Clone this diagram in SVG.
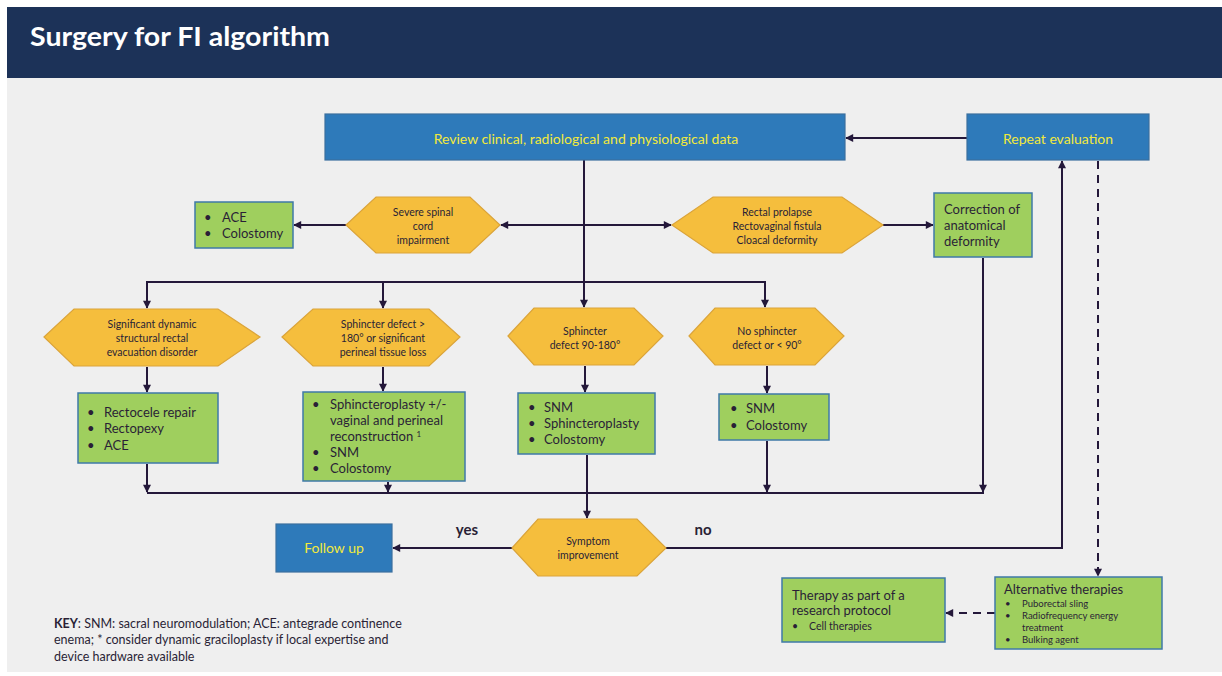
<svg xmlns="http://www.w3.org/2000/svg" width="1222" height="676" viewBox="0 0 1222 676">
<defs>
<marker id="ah" viewBox="0 0 10 10" refX="9" refY="5" markerWidth="9" markerHeight="8" markerUnits="userSpaceOnUse" orient="auto-start-reverse">
<path d="M0,0 L10,5 L0,10 Z" fill="#24183a"/>
</marker>
<style>
.t{font-family:Lato,"Open Sans","Liberation Sans",sans-serif;fill:#2a1f36}
.y{font-family:Lato,"Open Sans","Liberation Sans",sans-serif;fill:#f2e93c;font-size:14px;text-anchor:middle}
.blue{fill:#2e7aba;stroke:#3b6f9e;stroke-width:1.2}
.hex{fill:#f5be3d;stroke:#dba43a;stroke-width:1.2}
.grn{fill:#9fcf5e;stroke:#3f7aa8;stroke-width:1.5}
.hx{font-size:10.5px;text-anchor:middle}
.bx{font-size:13px}
.c{fill:none;stroke:#24183a;stroke-width:2}
.d{stroke-dasharray:8,6}
</style>
</defs>
<rect x="0" y="0" width="1222" height="676" fill="#ffffff"/>
<rect x="7" y="78" width="1215" height="594" fill="#efefef"/>
<g id="header">
<rect x="7" y="7" width="1215" height="71" fill="#1c3258"/>
<text x="30" y="46" font-family="Lato,'Open Sans','Liberation Sans',sans-serif" font-weight="bold" font-size="26" fill="#ffffff" textLength="300" lengthAdjust="spacingAndGlyphs">Surgery for FI algorithm</text>
</g>
<g id="connectors">
<line class="c" x1="967" y1="138" x2="846" y2="138" marker-end="url(#ah)"/>
<line class="c" x1="584" y1="160" x2="584" y2="307" marker-end="url(#ah)"/>
<line class="c" x1="346" y1="225" x2="294" y2="225" marker-end="url(#ah)"/>
<line class="c" x1="501" y1="225" x2="671" y2="225" marker-start="url(#ah)" marker-end="url(#ah)"/>
<line class="c" x1="883" y1="225" x2="933" y2="225" marker-end="url(#ah)"/>
<line class="c" x1="147" y1="282" x2="765" y2="282"/>
<polyline class="c" points="147,281 147,308" marker-end="url(#ah)"/>
<line class="c" x1="383" y1="282" x2="383" y2="308" marker-end="url(#ah)"/>
<polyline class="c" points="765,281 765,307" marker-end="url(#ah)"/>
<line class="c" x1="147" y1="367" x2="147" y2="392" marker-end="url(#ah)"/>
<line class="c" x1="383" y1="367" x2="383" y2="391" marker-end="url(#ah)"/>
<line class="c" x1="585" y1="366" x2="585" y2="392" marker-end="url(#ah)"/>
<line class="c" x1="767" y1="366" x2="767" y2="393" marker-end="url(#ah)"/>
<line class="c" x1="147" y1="493" x2="984" y2="493"/>
<line class="c" x1="147" y1="464" x2="147" y2="492" marker-end="url(#ah)"/>
<line class="c" x1="388" y1="482" x2="388" y2="492" marker-end="url(#ah)"/>
<line class="c" x1="767" y1="441" x2="767" y2="492" marker-end="url(#ah)"/>
<line class="c" x1="983" y1="258" x2="983" y2="492" marker-end="url(#ah)"/>
<line class="c" x1="587" y1="455" x2="587" y2="518" marker-end="url(#ah)"/>
<line class="c" x1="512" y1="548" x2="393" y2="548" marker-end="url(#ah)"/>
<polyline class="c" points="666,548 1062,548 1062,161" marker-end="url(#ah)"/>
<line class="c d" x1="1098" y1="161" x2="1098" y2="576" marker-end="url(#ah)"/>
<line class="c d" x1="995" y1="613" x2="946" y2="613" marker-end="url(#ah)"/>
<text class="t" x="467" y="535" font-size="15" font-weight="bold" text-anchor="middle">yes</text>
<text class="t" x="703" y="535" font-size="15" font-weight="bold" text-anchor="middle">no</text>
</g>
<g id="review">
<rect class="blue" x="325" y="114" width="520" height="46"/>
<text class="y" x="586" y="144">Review clinical, radiological and physiological data</text>
</g>
<g id="repeat">
<rect class="blue" x="967" y="114" width="182" height="46"/>
<text class="y" x="1058" y="144">Repeat evaluation</text>
</g>
<g id="spinal">
<polygon class="hex" points="346,225 376,197 470,197 500,225 470,253 376,253"/>
<text class="t hx" x="423" y="216">Severe spinal</text>
<text class="t hx" x="423" y="230">cord</text>
<text class="t hx" x="423" y="244">impairment</text>
</g>
<g id="ace-box">
<rect class="grn" x="195" y="202" width="98" height="46"/>
<text class="t bx" x="204" y="222">•</text><text class="t bx" x="222" y="222">ACE</text>
<text class="t bx" x="204" y="238">•</text><text class="t bx" x="222" y="238">Colostomy</text>
</g>
<g id="prolapse">
<polygon class="hex" points="672,225 713,197 842,197 883,225 842,253 713,253"/>
<text class="t hx" x="777" y="216">Rectal prolapse</text>
<text class="t hx" x="777" y="230">Rectovaginal fistula</text>
<text class="t hx" x="777" y="244">Cloacal deformity</text>
</g>
<g id="correction">
<rect class="grn" x="934" y="193" width="98" height="64"/>
<text class="t bx" x="944" y="214">Correction of</text>
<text class="t bx" x="944" y="230">anatomical</text>
<text class="t bx" x="944" y="246">deformity</text>
</g>
<g id="dynamic">
<polygon class="hex" points="44,337 74,309 218,309 260,337 218,366 74,366"/>
<text class="t hx" x="152" y="328">Significant dynamic</text>
<text class="t hx" x="152" y="342">structural rectal</text>
<text class="t hx" x="152" y="356">evacuation disorder</text>
</g>
<g id="defect180">
<polygon class="hex" points="282,337 313,309 429,309 460,337 429,366 313,366"/>
<text class="t hx" x="383" y="328">Sphincter defect &gt;</text>
<text class="t hx" x="383" y="342">180° or significant</text>
<text class="t hx" x="383" y="356">perineal tissue loss</text>
</g>
<g id="defect90">
<polygon class="hex" points="508,336 534,308 634,308 663,336 634,365 534,365"/>
<text class="t hx" x="585" y="335">Sphincter</text>
<text class="t hx" x="585" y="349">defect 90-180°</text>
</g>
<g id="nodefect">
<polygon class="hex" points="689,336 715,308 815,308 844,336 815,365 715,365"/>
<text class="t hx" x="767" y="335">No sphincter</text>
<text class="t hx" x="767" y="349">defect or &lt; 90°</text>
</g>
<g id="rectocele">
<rect class="grn" x="78" y="393" width="140" height="70"/>
<text class="t bx" x="87" y="417">•</text><text class="t bx" x="104" y="417">Rectocele repair</text>
<text class="t bx" x="87" y="433">•</text><text class="t bx" x="104" y="433">Rectopexy</text>
<text class="t bx" x="87" y="450">•</text><text class="t bx" x="104" y="450">ACE</text>
</g>
<g id="sphincteroplasty1">
<rect class="grn" x="303" y="392" width="162" height="89"/>
<text class="t bx" x="312" y="409">•</text><text class="t bx" x="330" y="409">Sphincteroplasty +/-</text>
<text class="t bx" x="330" y="425">vaginal and perineal</text>
<text class="t bx" x="330" y="441">reconstruction <tspan font-size="8" dy="-4">1</tspan></text>
<text class="t bx" x="312" y="457">•</text><text class="t bx" x="330" y="457">SNM</text>
<text class="t bx" x="312" y="473">•</text><text class="t bx" x="330" y="473">Colostomy</text>
</g>
<g id="snm3">
<rect class="grn" x="518" y="393" width="137" height="61"/>
<text class="t bx" x="528" y="412">•</text><text class="t bx" x="544" y="412">SNM</text>
<text class="t bx" x="528" y="428">•</text><text class="t bx" x="544" y="428">Sphincteroplasty</text>
<text class="t bx" x="528" y="444">•</text><text class="t bx" x="544" y="444">Colostomy</text>
</g>
<g id="snm2">
<rect class="grn" x="719" y="394" width="110" height="46"/>
<text class="t bx" x="730" y="413">•</text><text class="t bx" x="746" y="413">SNM</text>
<text class="t bx" x="730" y="430">•</text><text class="t bx" x="746" y="430">Colostomy</text>
</g>
<g id="symptom">
<polygon class="hex" points="512,548 538,519 637,519 666,548 637,576 538,576"/>
<text class="t hx" x="588" y="545">Symptom</text>
<text class="t hx" x="588" y="559">improvement</text>
</g>
<g id="followup">
<rect class="blue" x="276" y="524" width="116" height="48"/>
<text class="y" x="334" y="553">Follow up</text>
</g>
<g id="research">
<rect class="grn" x="782" y="578" width="163" height="64"/>
<text class="t bx" x="792" y="600">Therapy as part of a</text>
<text class="t bx" x="792" y="615">research protocol</text>
<text class="t" x="792" y="630" font-size="10.5">•</text><text class="t" x="809" y="630" font-size="10.5">Cell therapies</text>
</g>
<g id="alternative">
<rect class="grn" x="995" y="577" width="167" height="72"/>
<text class="t bx" x="1004" y="594">Alternative therapies</text>
<text class="t" x="1005" y="607" font-size="9.5">•</text><text class="t" x="1022" y="607" font-size="9.5">Puborectal sling</text>
<text class="t" x="1005" y="619" font-size="9.5">•</text><text class="t" x="1022" y="619" font-size="9.5">Radiofrequency energy</text>
<text class="t" x="1022" y="631" font-size="9.5">treatment</text>
<text class="t" x="1005" y="643" font-size="9.5">•</text><text class="t" x="1022" y="643" font-size="9.5">Bulking agent</text>
</g>
<g id="key">
<text class="t" x="54" y="628" font-size="12.5"><tspan font-weight="bold">KEY</tspan>: SNM: sacral neuromodulation; ACE: antegrade continence</text>
<text class="t" x="54" y="644" font-size="12.5">enema; * consider dynamic graciloplasty if local expertise and</text>
<text class="t" x="54" y="661" font-size="12.5">device hardware available</text>
</g>
</svg>
